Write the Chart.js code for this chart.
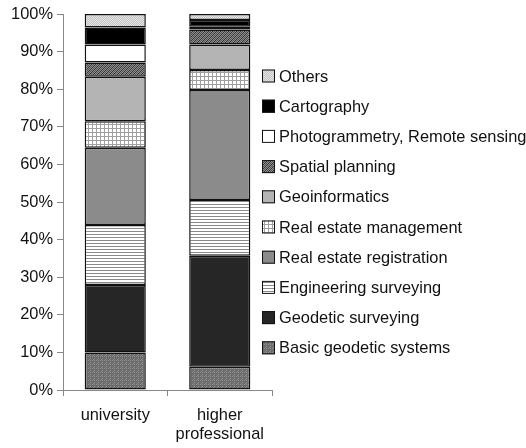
<!DOCTYPE html>
<html><head><meta charset="utf-8">
<script src="https://cdn.jsdelivr.net/npm/chart.js@4"></script>
<style>html,body{margin:0;padding:0;background:#fff}#wrap{width:526px;height:448px}</style>
</head><body><div id="wrap"><canvas id="c" width="526" height="448"></canvas></div>
<script>
const categories = ['university', ['higher', 'professional']];
const seriesNames = ['Basic geodetic systems','Geodetic surveying','Engineering surveying','Real estate registration','Real estate management','Geoinformatics','Spatial planning','Photogrammetry, Remote sensing','Cartography','Others'];
const basicGeodetic = [10.0, 6.2];
const geodeticSurveying = [17.9, 29.5];
const engineeringSurveying = [16.0, 14.8];
const realEstateRegistration = [20.5, 29.3];
const realEstateManagement = [7.1, 5.3];
const geoinformatics = [11.8, 6.8];
const spatialPlanning = [3.8, 4.0];
const photogrammetry = [4.8, 0.7];
const cartography = [4.5, 1.8];
const others = [3.6, 1.6];
const yTicks = [0,10,20,30,40,50,60,70,80,90,100];

function pat(w,h,draw){const c=document.createElement('canvas');c.width=w;c.height=h;const g=c.getContext('2d');draw(g);return g.createPattern(c,'repeat');}
const fills = [
  pat(4,4,g=>{g.fillStyle='#6c6c6c';g.fillRect(0,0,4,4);g.fillStyle='#8e8e8e';g.fillRect(0,0,1,1);g.fillRect(2,2,1,1);g.fillRect(2,0,1,1);g.fillRect(1,3,1,1);}),
  '#262626',
  pat(1,3,g=>{g.fillStyle='#ffffff';g.fillRect(0,0,1,3);g.fillStyle='#8a8a8a';g.fillRect(0,0,1,1);}),
  '#8b8b8b',
  pat(4,4,g=>{g.fillStyle='#ffffff';g.fillRect(0,0,4,4);g.fillStyle='#a0a0a0';g.fillRect(0,0,4,1);g.fillRect(0,0,1,4);}),
  '#b4b4b4',
  pat(4,4,g=>{g.fillStyle='#8c8c8c';g.fillRect(0,0,4,4);g.fillStyle='#333';for(let i=0;i<4;i++){g.fillRect(i,3-i,1,1);}g.fillStyle='#555';for(let i=0;i<4;i++){g.fillRect(i,(5-i)%4,1,1);}}),
  '#ffffff',
  '#000000',
  pat(2,2,g=>{g.fillStyle='#c4c4c4';g.fillRect(0,0,2,2);g.fillStyle='#e4e4e4';g.fillRect(0,0,1,1);g.fillRect(1,1,1,1);})
];
const seriesData = [basicGeodetic, geodeticSurveying, engineeringSurveying, realEstateRegistration, realEstateManagement, geoinformatics, spatialPlanning, photogrammetry, cartography, others];

const legendPlugin = {
  id: 'sideLegend',
  afterDraw(chart){
    const ctx = chart.ctx;
    const ds = chart.data.datasets;
    ctx.save();
    ctx.font = '16.4px "Liberation Sans", Arial, sans-serif';
    ctx.textBaseline = 'middle';
    const n = ds.length;
    for (let k = 0; k < n; k++) {
      const d = ds[n-1-k];
      const cy = 76 + k * 30.2;
      ctx.fillStyle = d.backgroundColor;
      ctx.fillRect(262, cy-6.5, 13, 13);
      ctx.strokeStyle = '#111';
      ctx.lineWidth = 1;
      ctx.strokeRect(262.5, cy-6, 12, 12);
      ctx.fillStyle = '#111';
      ctx.fillText(d.label, 279, cy+1);
    }
    ctx.restore();
  }
};

Chart.defaults.font.family = '"Liberation Sans", Arial, sans-serif';
Chart.defaults.font.size = 16.4;
Chart.defaults.color = '#111';

new Chart(document.getElementById('c'), {
  type: 'bar',
  data: {
    labels: categories,
    datasets: seriesNames.map((name,i)=>({
      label: name,
      data: seriesData[i],
      backgroundColor: fills[i],
      borderColor: '#111',
      borderWidth: 1.5,
      borderSkipped: false,
      barPercentage: 0.585,
      categoryPercentage: 1.0
    }))
  },
  options: {
    responsive: false,
    animation: false,
    layout: { padding: { left: 0, right: 254, top: 14, bottom: 0 } },
    plugins: { legend: { display: false }, tooltip: { enabled: false } },
    scales: {
      x: {
        stacked: true,
        grid: { drawOnChartArea: false, tickLength: 6, color: '#888', offset: true },
        border: { color: '#888', width: 1 },
        ticks: { padding: 10, maxRotation: 0, autoSkip: false, font: { size: 16.4, lineHeight: 1.15 } },
        afterFit: s => { s.height = 58; }
      },
      y: {
        stacked: true,
        min: 0, max: 100,
        afterBuildTicks: s => { s.ticks = yTicks.map(v => ({ value: v })); },
        ticks: { callback: v => v + '%', padding: 4, font: { size: 16.4 } },
        grid: { drawOnChartArea: false, tickLength: 6, color: '#888' },
        border: { color: '#888', width: 1 },
        afterFit: s => { s.width = 63; }
      }
    }
  },
  plugins: [legendPlugin]
});
</script></body></html>
